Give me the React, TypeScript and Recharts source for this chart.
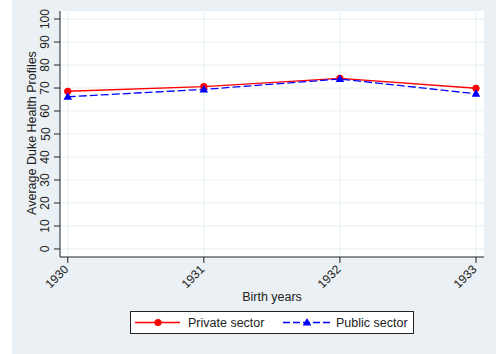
import React from "react";
import { LineChart, Line, XAxis, YAxis, CartesianGrid, Legend } from "recharts";

const years = [1930, 1931, 1932, 1933];
const privateSector = [68.6, 70.6, 74.2, 69.9];
const publicSector = [66.2, 69.4, 73.9, 67.5];
const yTicks = [0, 10, 20, 30, 40, 50, 60, 70, 80, 90, 100];
const seriesNames = ["Private sector", "Public sector"];

const data = years.map((y, i) => ({ year: y, priv: privateSector[i], pub: publicSector[i] }));

const FONT = "Liberation Sans, Arial, sans-serif";
const BG = "#EAF0F3";
const GRID = "#EAF2F3";
const AXIS = "#222";

const YTick = (props: any) => {
  const { y, payload } = props;
  const bx = 49.5;
  return (
    <text x={bx} y={y} transform={`rotate(-90 ${bx} ${y})`} textAnchor="middle" fontSize={12} fill="#222" fontFamily={FONT}>
      {payload.value}
    </text>
  );
};

const XTick = (props: any) => {
  const { x, payload } = props;
  const px = x + 1.5;
  const py = 270;
  return (
    <text x={px} y={py} transform={`rotate(-45 ${px} ${py})`} textAnchor="end" fontSize={12} fill="#222" fontFamily={FONT}>
      {payload.value}
    </text>
  );
};

const Circle = (p: any) => (
  <circle key={`c${p.index}`} cx={p.cx} cy={p.cy} r={3.6} fill="#FF0000" stroke="none" />
);
const Tri = (p: any) => (
  <polygon
    key={`t${p.index}`}
    points={`${p.cx},${p.cy - 4.5} ${p.cx - 4.3},${p.cy + 3} ${p.cx + 4.3},${p.cy + 3}`}
    fill="#0000FF"
    stroke="none"
  />
);

const LegendBox = () => (
  <div
    style={{
      width: 284,
      height: 23,
      boxSizing: "border-box",
      border: "1px solid #222",
      background: "#fff",
      position: "relative",
      fontFamily: FONT,
      fontSize: 12,
      color: "#222",
    }}
  >
    <svg width={284} height={23} style={{ position: "absolute", left: -1, top: -1 }}>
      <line x1={5} y1={11.5} x2={50} y2={11.5} stroke="#FF0000" strokeWidth={1.3} />
      <circle cx={28} cy={11.5} r={3.6} fill="#FF0000" />
      <line x1={153} y1={11.5} x2={200} y2={11.5} stroke="#0000FF" strokeWidth={1.3} strokeDasharray="7 3" />
      <polygon points={`177,7 172.7,14.5 181.3,14.5`} fill="#0000FF" />
      <text x={58} y={15.8} fontSize={12.5} fill="#222" fontFamily={FONT}>{seriesNames[0]}</text>
      <text x={206} y={15.8} fontSize={12.5} fill="#222" fontFamily={FONT}>{seriesNames[1]}</text>
    </svg>
  </div>
);

export default function App() {
  return (
    <div style={{ position: "absolute", left: 0, top: 0, width: 496, height: 354, background: "#fff" }}>
      <div style={{ position: "absolute", left: 12, top: 0, width: 484, height: 354, background: BG }} />
      <div style={{ position: "absolute", left: 0, top: 0 }}>
        <LineChart width={496} height={354} data={data} margin={{ top: 11, right: 12, bottom: 20, left: 0 }}>
          <CartesianGrid stroke={GRID} strokeWidth={1.2} fill="#fff" horizontalValues={yTicks} verticalValues={years} />
          <XAxis
            type="number"
            dataKey="year"
            domain={[1929.943, 1933.059]}
            ticks={years}
            allowDataOverflow
            height={54}
            tickSize={6}
            stroke={AXIS}
            tickLine={{ stroke: AXIS }}
            axisLine={{ stroke: AXIS }}
            tick={<XTick />}
            interval={0}
            label={{
              content: () => (
                <text x={272} y={301} textAnchor="middle" fontSize={12.5} fill="#222" fontFamily={FONT}>
                  Birth years
                </text>
              ),
            }}
          />
          <YAxis
            type="number"
            domain={[-3.5, 103.5]}
            ticks={yTicks}
            allowDataOverflow
            width={60}
            tickSize={6}
            stroke={AXIS}
            tickLine={{ stroke: AXIS }}
            axisLine={{ stroke: AXIS }}
            tick={<YTick />}
            interval={0}
            label={{
              content: () => (
                <text x={36} y={133} transform="rotate(-90 36 133)" textAnchor="middle" fontSize={12.5} fill="#222" fontFamily={FONT}>
                  Average Duke Health Profiles
                </text>
              ),
            }}
          />
          <Legend content={<LegendBox />} wrapperStyle={{ left: 130, bottom: 20, width: 284, height: 23 }} />
          <Line
            dataKey="priv"
            name={seriesNames[0]}
            stroke="#FF0000"
            strokeWidth={1.3}
            dot={Circle}
            activeDot={false}
            isAnimationActive={false}
          />
          <Line
            dataKey="pub"
            name={seriesNames[1]}
            stroke="#0000FF"
            strokeWidth={1.3}
            strokeDasharray="8 3"
            dot={Tri}
            activeDot={false}
            isAnimationActive={false}
          />
        </LineChart>
      </div>
    </div>
  );
}
